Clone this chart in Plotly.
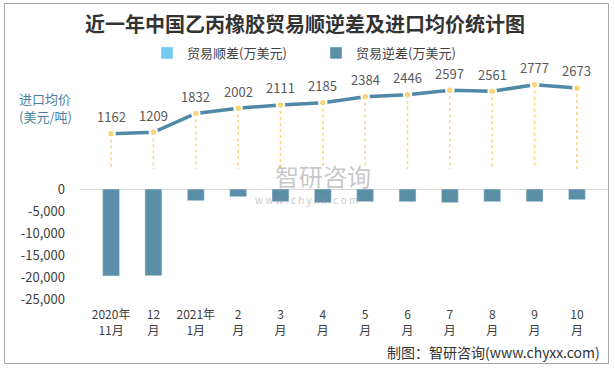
import plotly.graph_objects as go

categories = ["2020年<br>11月", "12<br>月", "2021年<br>1月", "2<br>月", "3<br>月", "4<br>月",
              "5<br>月", "6<br>月", "7<br>月", "8<br>月", "9<br>月", "10<br>月"]
surplus = [0, 0, 0, 0, 0, 0, 0, 0, 0, 0, 0, 0]
deficit = [-19750, -19700, -2660, -1750, -2890, -3110, -2890, -2890, -3110, -2890, -2890, -2430]
price = [1162, 1209, 1832, 2002, 2111, 2185, 2384, 2446, 2597, 2561, 2777, 2673]
y_tickvals = [0, -5000, -10000, -15000, -20000, -25000]
y_ticktext = ["0", "-5,000", "-10,000", "-15,000", "-20,000", "-25,000"]

FONT = "Noto Sans CJK SC"
W, H = 615, 370
L, R, T, B = 80, 7, 55, 71
PW, PH = W - L - R, H - T - B


def px(x):
    return (x - L) / PW


def py(y):
    return (H - B - y) / PH


fig = go.Figure()

fig.add_trace(go.Bar(x=categories, y=surplus, name="贸易顺差(万美元)",
                     marker_color="#74c9f0", width=0.4, yaxis="y"))
fig.add_trace(go.Bar(x=categories, y=deficit, name="贸易逆差(万美元)",
                     marker_color="#5b8fa7", width=0.4, yaxis="y"))

# dotted drop lines from each price point to the secondary zero
dx, dy = [], []
for c, v in zip(categories, price):
    dx += [c, c, None]
    dy += [v, 0, None]
fig.add_trace(go.Scatter(x=dx, y=dy, mode="lines", yaxis="y2", showlegend=False,
                         line=dict(color="#f9d57a", width=1.5, dash="dot"), hoverinfo="skip"))

fig.add_trace(go.Scatter(x=categories, y=price, mode="lines+markers", yaxis="y2",
                         name="进口均价", showlegend=False,
                         line=dict(color="#4f89a5", width=3.5),
                         marker=dict(color="#f9d57a", size=7.5, line=dict(color="white", width=2))))

annotations = []
for c, v in zip(categories, price):
    annotations.append(dict(x=c, y=v, xref="x", yref="y2", text=str(v), showarrow=False,
                            yshift=17, font=dict(family=FONT, size=13, color="#595959")))

annotations += [
    dict(x=px(17), y=py(98), xref="paper", yref="paper", xanchor="left", yanchor="middle",
         text="进口均价", showarrow=False, font=dict(family=FONT, size=13, color="#4a7fa0")),
    dict(x=px(17), y=py(116), xref="paper", yref="paper", xanchor="left", yanchor="middle",
         text="(美元/吨)", showarrow=False, font=dict(family=FONT, size=13, color="#4a7fa0")),
    dict(x=px(602), y=py(352), xref="paper", yref="paper", xanchor="right", yanchor="middle",
         text="制图：智研咨询(www.chyxx.com)", showarrow=False,
         font=dict(family=FONT, size=14, color="#333333")),
    dict(x=px(323), y=py(175), xref="paper", yref="paper", xanchor="center", yanchor="middle",
         text="智研咨询", showarrow=False,
         font=dict(family=FONT, size=24, color="rgba(150,150,150,0.55)")),
    dict(x=px(306), y=py(200), xref="paper", yref="paper", xanchor="center", yanchor="middle",
         text="w w w . c h y x x . c o m", showarrow=False,
         font=dict(family=FONT, size=10, color="rgba(150,150,150,0.55)")),
]

shapes = [
    dict(type="rect", xref="paper", yref="paper", x0=px(4.5), x1=px(608.5), y0=py(363.5), y1=py(3.5),
         line=dict(color="#a6a6a6", width=1), fillcolor="rgba(0,0,0,0)", layer="below"),
]

fig.update_layout(
    width=W, height=H,
    margin=dict(l=L, r=R, t=T, b=B),
    paper_bgcolor="white", plot_bgcolor="white",
    barmode="overlay",
    font=dict(family=FONT, size=13, color="#404040"),
    title=dict(text="<b>近一年中国乙丙橡胶贸易顺逆差及进口均价统计图</b>", x=305 / W, xanchor="center",
               y=1 - 25 / H, yanchor="middle", yref="container",
               font=dict(family=FONT, size=20, color="#333333")),
    legend=dict(orientation="h", x=px(147), y=py(53), xanchor="left", yanchor="middle",
                font=dict(family=FONT, size=13, color="#404040"), entrywidth=124,
                itemwidth=30, bgcolor="rgba(0,0,0,0)"),
    xaxis=dict(type="category", showgrid=False, showline=False, ticks="",
               tickfont=dict(family=FONT, size=12, color="#404040"), ticklabelstandoff=7),
    yaxis=dict(domain=[0, py(189)], range=[-25000, 0], tickvals=y_tickvals, ticktext=y_ticktext,
               showgrid=False, zeroline=True, zerolinecolor="#d9d9d9", zerolinewidth=1,
               showline=False, ticks="", ticklabelstandoff=14,
               tickfont=dict(family=FONT, size=13, color="#404040")),
    yaxis2=dict(domain=[py(169), 1], range=[0, 114 / 0.03034], visible=False, anchor="x"),
    annotations=annotations,
    shapes=shapes,
    showlegend=True,
)

fig.write_html("out.html", config={"displayModeBar": False},
               post_script="document.body.style.margin='0';")
